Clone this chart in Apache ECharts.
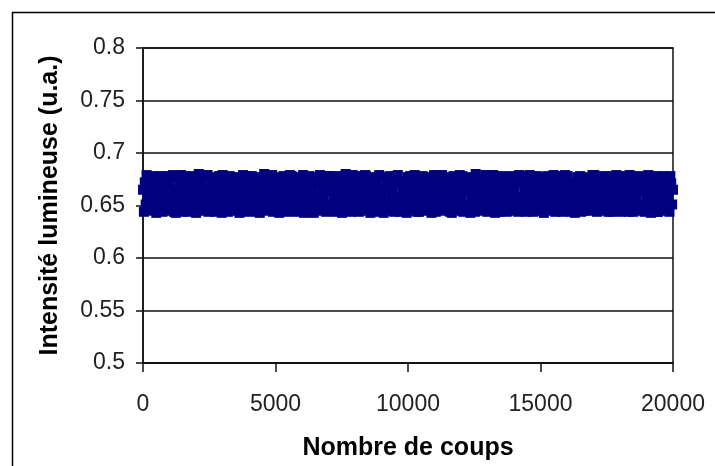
<!DOCTYPE html>
<html>
<head>
<meta charset="utf-8">
<script src="https://cdn.jsdelivr.net/npm/echarts@6/dist/echarts.min.js"></script>
<style>html,body{margin:0;padding:0;background:#fff}#c{width:715px;height:466px}</style>
</head>
<body>
<div id="c"></div>
<script>
const xTitle = 'Nombre de coups';
const yTitle = 'Intensité lumineuse (u.a.)';
const xMin = 0, xMax = 20000, xStep = 5000;
const yMin = 0.5, yMax = 0.8, yStep = 0.05;
// Intensity readings, evenly spaced over the shot count 0..20000
const intensity = [
0.665,0.644,0.672,0.651,0.679,0.658, 0.652,0.671,0.645,0.664,0.659,0.677, 0.678,0.657,0.666,0.643,0.673,0.650, 0.658,0.651,0.678,0.665,0.644,0.671,
0.645,0.672,0.659,0.678,0.650,0.666, 0.671,0.664,0.651,0.657,0.679,0.644, 0.660,0.643,0.677,0.652,0.665,0.672, 0.666,0.679,0.644,0.673,0.658,0.650,
0.651,0.658,0.666,0.644,0.672,0.678, 0.677,0.645,0.664,0.671,0.652,0.659, 0.643,0.673,0.650,0.680,0.665,0.657, 0.672,0.652,0.659,0.645,0.678,0.666,
0.658,0.679,0.644,0.665,0.651,0.671, 0.666,0.650,0.673,0.657,0.644,0.677, 0.652,0.664,0.678,0.671,0.659,0.643, 0.679,0.658,0.645,0.651,0.666,0.672,
0.644,0.666,0.678,0.659,0.672,0.650, 0.673,0.657,0.651,0.677,0.664,0.645, 0.665,0.643,0.658,0.671,0.652,0.679, 0.650,0.672,0.666,0.644,0.678,0.658,
0.671,0.651,0.664,0.678,0.645,0.657, 0.659,0.677,0.644,0.666,0.673,0.652, 0.643,0.665,0.672,0.650,0.658,0.680, 0.678,0.645,0.658,0.672,0.651,0.665,
0.657,0.672,0.679,0.644,0.665,0.651, 0.650,0.666,0.658,0.673,0.643,0.677, 0.672,0.659,0.645,0.678,0.652,0.664, 0.664,0.644,0.671,0.657,0.679,0.650,
0.678,0.658,0.651,0.665,0.672,0.645, 0.644,0.673,0.666,0.652,0.677,0.659, 0.665,0.679,0.643,0.671,0.650,0.657, 0.651,0.664,0.678,0.645,0.658,0.672,
0.666,0.643,0.659,0.677,0.652,0.671, 0.673,0.651,0.679,0.658,0.645,0.665, 0.657,0.672,0.650,0.644,0.666,0.678, 0.645,0.678,0.664,0.651,0.671,0.658,
0.659,0.665,0.644,0.672,0.678,0.650, 0.677,0.657,0.671,0.643,0.664,0.652, 0.650,0.680,0.658,0.666,0.645,0.673, 0.672,0.644,0.651,0.679,0.659,0.665,
0.652,0.671,0.678,0.658,0.644,0.666, 0.664,0.645,0.657,0.673,0.650,0.679, 0.678,0.659,0.665,0.651,0.672,0.643, 0.644,0.666,0.672,0.658,0.677,0.651,
0.671,0.650,0.665,0.679,0.657,0.644, 0.658,0.677,0.643,0.652,0.666,0.672, 0.645,0.664,0.673,0.678,0.651,0.659, 0.666,0.652,0.644,0.671,0.658,0.678,
0.679,0.658,0.651,0.644,0.672,0.665, 0.650,0.673,0.666,0.659,0.643,0.677, 0.664,0.645,0.678,0.657,0.671,0.652, 0.657,0.679,0.665,0.650,0.644,0.672,
0.644,0.671,0.658,0.666,0.678,0.651, 0.673,0.652,0.645,0.677,0.659,0.664, 0.658,0.672,0.643,0.650,0.665,0.679, 0.678,0.644,0.672,0.659,0.651,0.666,
0.665,0.657,0.679,0.645,0.671,0.650, 0.651,0.666,0.673,0.658,0.677,0.644, 0.672,0.643,0.659,0.678,0.652,0.665, 0.645,0.658,0.666,0.672,0.679,0.651,
0.658,0.678,0.644,0.651,0.665,0.672, 0.677,0.650,0.664,0.673,0.643,0.657, 0.652,0.665,0.671,0.644,0.680,0.659, 0.671,0.651,0.657,0.666,0.645,0.678,
0.650,0.673,0.666,0.679,0.658,0.644, 0.664,0.645,0.678,0.651,0.672,0.659, 0.679,0.657,0.643,0.665,0.652,0.671, 0.644,0.666,0.678,0.658,0.672,0.650,
0.672,0.659,0.651,0.644,0.677,0.665, 0.645,0.678,0.658,0.671,0.664,0.652, 0.666,0.650,0.673,0.657,0.644,0.679, 0.658,0.672,0.645,0.651,0.678,0.665,
0.651,0.644,0.672,0.665,0.658,0.679, 0.673,0.664,0.650,0.644,0.677,0.657, 0.659,0.678,0.665,0.671,0.645,0.652, 0.677,0.651,0.666,0.643,0.658,0.672,
0.664,0.678,0.645,0.658,0.671,0.652, 0.650,0.659,0.679,0.666,0.644,0.673, 0.672,0.645,0.657,0.651,0.678,0.665, 0.644,0.666,0.673,0.679,0.650,0.658,
0.678,0.652,0.659,0.671,0.644,0.665, 0.657,0.672,0.643,0.650,0.666,0.677, 0.665,0.651,0.678,0.644,0.658,0.672, 0.671,0.645,0.650,0.664,0.677,0.659,
0.645,0.666,0.672,0.657,0.679,0.651, 0.679,0.658,0.664,0.644,0.652,0.671, 0.651,0.673,0.645,0.665,0.659,0.678, 0.666,0.650,0.677,0.672,0.644,0.658,
0.658,0.644,0.678,0.671,0.665,0.650, 0.672,0.679,0.651,0.657,0.645,0.664, 0.644,0.659,0.666,0.678,0.673,0.652, 0.650,0.665,0.658,0.644,0.679,0.671,
0.673,0.651,0.644,0.666,0.658,0.678, 0.658,0.645,0.672,0.664,0.651,0.677, 0.671,0.666,0.650,0.644,0.678,0.659, 0.652,0.679,0.665,0.657,0.643,0.672,
0.665,0.672,0.658,0.651,0.678,0.644, 0.644,0.677,0.671,0.659,0.665,0.650, 0.678,0.652,0.645,0.673,0.666,0.658, 0.659,0.644,0.678,0.671,0.651,0.665
];
const points = intensity.map((v, i) => [xMin + i * (xMax - xMin) / (intensity.length - 1), v]);

const chart = echarts.init(document.getElementById('c'), null, {renderer: 'canvas'});
const tickFont = {fontFamily: 'Liberation Sans, Arial, sans-serif', fontSize: 23, color: '#222'};
const titleFont = {fontFamily: 'Liberation Sans, Arial, sans-serif', fontSize: 25, fontWeight: 'bold', color: '#000'};
chart.setOption({
  animation: false,
  backgroundColor: '#fff',
  graphic: [{
    type: 'rect', left: 10, top: 10, silent: true,
    shape: {width: 730, height: 480},
    style: {fill: 'none', stroke: '#000', lineWidth: 1.5}
  }],
  grid: {left: 143, right: 42, top: 48, bottom: 103, show: true, borderColor: '#111', borderWidth: 1.5, backgroundColor: 'transparent'},
  xAxis: {
    type: 'value', min: xMin, max: xMax, interval: xStep,
    name: xTitle, nameLocation: 'middle', nameGap: 73, nameTextStyle: titleFont,
    axisLine: {show: true, onZero: false, lineStyle: {color: '#111', width: 1.5}},
    axisTick: {show: true, inside: false, length: 9, lineStyle: {color: '#111', width: 1.5}},
    axisLabel: Object.assign({margin: 30, formatter: v => String(v)}, tickFont),
    splitLine: {show: false}
  },
  yAxis: {
    type: 'value', min: yMin, max: yMax, interval: yStep,
    name: yTitle, nameLocation: 'middle', nameGap: 80, nameTextStyle: titleFont,
    axisLine: {show: true, onZero: false, lineStyle: {color: '#111', width: 1.5}},
    axisTick: {show: true, inside: false, length: 7, lineStyle: {color: '#111', width: 1.5}},
    axisLabel: Object.assign({margin: 18, formatter: v => String(+v.toFixed(2))}, tickFont),
    splitLine: {show: true, lineStyle: {color: '#111', width: 1.5}}
  },
  series: [{
    type: 'scatter',
    data: points,
    symbol: 'rect',
    symbolSize: 10,
    itemStyle: {color: '#000080', opacity: 1, borderWidth: 0},
    emphasis: {disabled: true},
    z: 3
  }]
});
</script>
</body>
</html>
